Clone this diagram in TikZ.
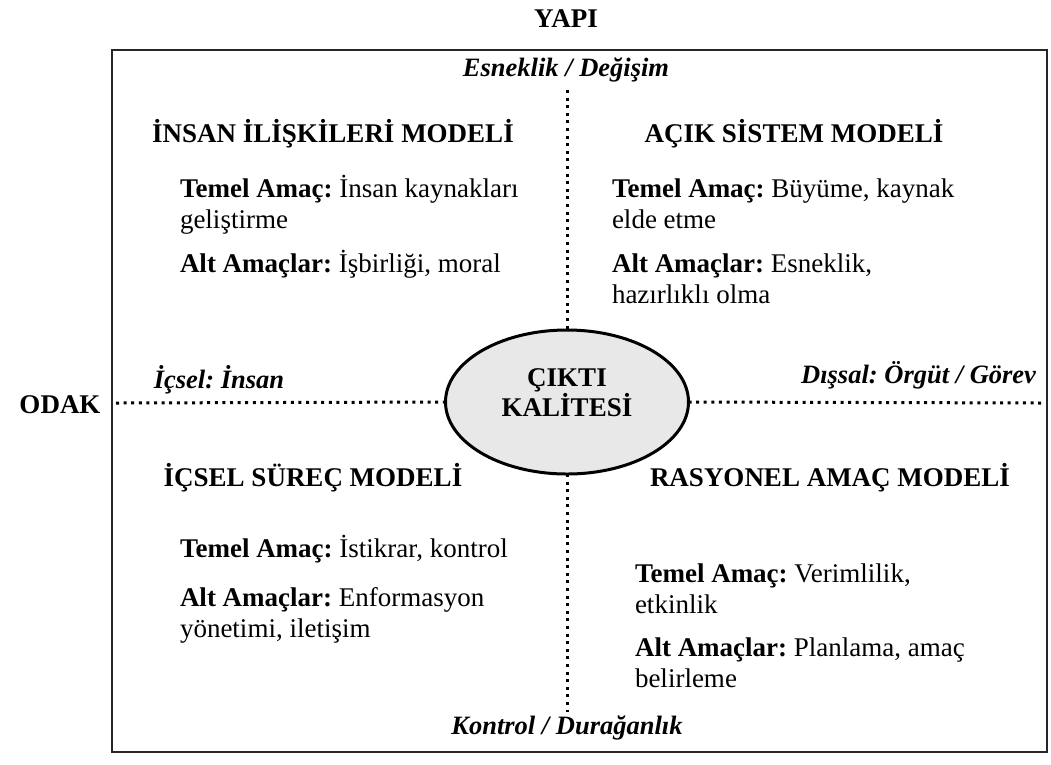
\documentclass[tikz,border=0pt]{standalone}
\usepackage{fontspec}
\setmainfont{Liberation Serif}
\usetikzlibrary{shapes.geometric}
\frenchspacing
\begin{document}
\begin{tikzpicture}[x=1pt,y=-1pt,
  every node/.style={inner sep=0pt, outer sep=0pt, font=\fontsize{27}{31}\selectfont},
  hd/.style={anchor=base, font=\fontsize{27}{31}\selectfont\bfseries},
  axl/.style={anchor=base, font=\fontsize{26.5}{31}\selectfont\bfseries\itshape},
  txt/.style={anchor=base west},
  dotline/.style={line width=3pt, dash pattern=on 3pt off 4.6pt},
  frame/.style={line width=1.6pt, draw=black!85}]
\useasboundingbox (0,0) rectangle (1051,764);
% frame
\draw[frame] (112,50) rectangle (1047,752);
% outer labels
\node[hd] (yapi) at (566,27) {YAPI};
\node[hd] (odak) at (60,413) {ODAK};
% ellipse
\node[ellipse, draw, line width=3pt, fill=black!9, minimum width=243, minimum height=144] (c) at (567,402) {};
\node[font=\fontsize{27}{30}\selectfont\bfseries, align=center] (ct) at (567,393) {ÇIKTI\\KALİTESİ};
% axes
\coordinate (vt) at (567,90);
\coordinate (vb) at (567,712);
\coordinate (hl) at (116,403);
\coordinate (hr) at (1042,403);
\draw[dotline] (vt) -- (c.north);
\draw[dotline] (c.south) -- (vb);
\draw[dotline] (hl) -- (c.west);
\draw[dotline] (c.east) -- (hr);
% axis labels
\node[axl] (esn) at (566,76) {Esneklik / Değişim};
\node[axl] (kon) at (567,734) {Kontrol / Durağanlık};
\node[axl] (ics) at (219,388) {İçsel: İnsan};
\node[axl, anchor=base east] (dis) at (1036,383) {Dışsal: Örgüt / Görev};
% top-left
\node[hd] (h1) at (333,142) {İNSAN İLİŞKİLERİ MODELİ};
\node[txt] (a1) at (180,197) {\textbf{Temel Amaç:} İnsan kaynakları};
\node[txt] (a2) at (180,228) {geliştirme};
\node[txt] (a3) at (180,272) {\textbf{Alt Amaçlar:} İşbirliği, moral};
% top-right
\node[hd] (h2) at (794,142) {AÇIK SİSTEM MODELİ};
\node[txt] (b1) at (612,197) {\textbf{Temel Amaç:} Büyüme, kaynak};
\node[txt] (b2) at (612,228) {elde etme};
\node[txt] (b3) at (612,272) {\textbf{Alt Amaçlar:} Esneklik,};
\node[txt] (b4) at (612,303) {hazırlıklı olma};
% bottom-left
\node[hd] (h3) at (313,486) {İÇSEL SÜREÇ MODELİ};
\node[txt] (c1) at (180,557) {\textbf{Temel Amaç:} İstikrar, kontrol};
\node[txt] (c2) at (180,606) {\textbf{Alt Amaçlar:} Enformasyon};
\node[txt] (c3) at (180,637) {yönetimi, iletişim};
% bottom-right
\node[hd] (h4) at (830,486) {RASYONEL AMAÇ MODELİ};
\node[txt] (d1) at (635,582) {\textbf{Temel Amaç:} Verimlilik,};
\node[txt] (d2) at (635,613) {etkinlik};
\node[txt] (d3) at (635,656) {\textbf{Alt Amaçlar:} Planlama, amaç};
\node[txt] (d4) at (635,687) {belirleme};
\end{tikzpicture}
\end{document}
